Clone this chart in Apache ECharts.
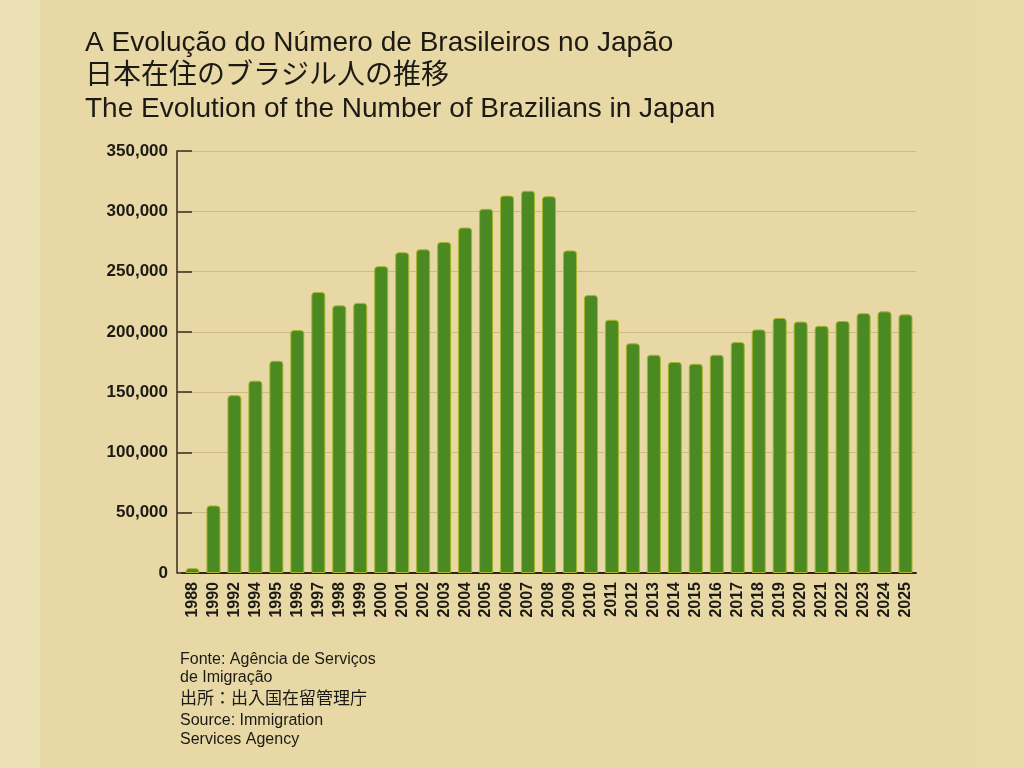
<!DOCTYPE html>
<html>
<head>
<meta charset="utf-8">
<script src="https://cdn.jsdelivr.net/npm/echarts@6/dist/echarts.min.js"></script>
<style>
  html, body { margin: 0; padding: 0; background: #e7d8a6; }
  #chart { width: 1024px; height: 768px; }
</style>
</head>
<body>
<div id="chart"></div>
<script>
// years shown on the x axis
var years = ['1988', '1990', '1992', '1994', '1995', '1996', '1997', '1998', '1999', '2000',
    '2001', '2002', '2003', '2004', '2005', '2006', '2007', '2008', '2009', '2010',
    '2011', '2012', '2013', '2014', '2015', '2016', '2017', '2018', '2019', '2020',
    '2021', '2022', '2023', '2024', '2025'];

// Brazilians living in Japan
var residents = [4000, 56000, 147500, 159500, 176000, 201500, 233000, 222000, 224000, 254500,
    266000, 268500, 274500, 286500, 302000, 313000, 317000, 312500, 267500, 230500,
    210000, 190500, 181000, 175000, 173500, 181000, 191500, 202000, 211500, 208500,
    205000, 209000, 215500, 217000, 214500];

var yTicks = [0, 50000, 100000, 150000, 200000, 250000, 300000, 350000];

var titleLines = [
    'A Evolução do Número de Brasileiros no Japão',
    '日本在住のブラジル人の推移',
    'The Evolution of the Number of Brazilians in Japan'
];

var sourceLines = [
    'Fonte: Agência de Serviços',
    'de Imigração',
    '出所：出入国在留管理庁',
    'Source: Immigration',
    'Services Agency'
];

var chart = echarts.init(document.getElementById('chart'));

var fontFamily = '"Liberation Sans", Arial, "Noto Sans CJK JP", sans-serif';

var titles = titleLines.map(function (t, i) {
    return {
        text: t,
        left: 80,
        top: 24 + i * 33,
        textStyle: {
            fontFamily: fontFamily,
            fontSize: 28,
            fontWeight: 'normal',
            color: '#1c1a14'
        }
    };
});

// source note under the chart
titles.push({
    text: '{a|' + sourceLines[0] + '}\n{a|' + sourceLines[1] + '}\n{j|' + sourceLines[2] + '}\n{b|' + sourceLines[3] + '}\n{b|' + sourceLines[4] + '}',
    left: 175,
    top: 646,
    textStyle: {
        rich: {
            a: { fontFamily: fontFamily, fontSize: 16, fontWeight: 'normal', color: '#1c1a14', lineHeight: 18 },
            j: { fontFamily: fontFamily, fontSize: 17, fontWeight: 'normal', color: '#1c1a14', lineHeight: 24 },
            b: { fontFamily: fontFamily, fontSize: 16, fontWeight: 'normal', color: '#1c1a14', lineHeight: 19 }
        }
    }
});

var option = {
    backgroundColor: '#e7d8a6',
    animation: false,
    graphic: [
        { type: 'rect', left: 0, top: 0, shape: { width: 40, height: 768 }, style: { fill: '#ece0b6' }, z: -10 },
        { type: 'rect', left: 970, top: 0, shape: { width: 54, height: 768 }, style: { fill: '#e9d9a8' }, z: -10 }
    ],
    title: titles,
    grid: {
        left: 182,
        right: 108,
        top: 151,
        bottom: 195
    },
    xAxis: {
        type: 'category',
        data: years,
        axisLine: { lineStyle: { color: '#2e2418', width: 2 } },
        axisTick: { show: false },
        axisLabel: {
            rotate: 90,
            interval: 0,
            margin: 9,
            fontFamily: fontFamily,
            fontSize: 16,
            fontWeight: 'bold',
            color: '#1c1a14'
        }
    },
    yAxis: {
        type: 'value',
        min: 0,
        max: 350000,
        interval: 50000,
        offset: 5,
        axisLine: { show: true, lineStyle: { color: '#3a2c1c', width: 1.5 } },
        axisTick: { show: true, inside: true, length: 15, lineStyle: { color: '#3a2c1c', width: 1.5 } },
        splitLine: { lineStyle: { color: '#cdb98a', width: 1 } },
        axisLabel: {
            margin: 9,
            fontFamily: fontFamily,
            fontSize: 17,
            fontWeight: 'bold',
            color: '#1c1a14',
            customValues: yTicks,
            formatter: function (v) {
                return v.toLocaleString('en-US');
            }
        }
    },
    series: [{
        type: 'bar',
        data: residents,
        barWidth: 14,
        itemStyle: {
            color: '#4b8a23',
            borderColor: '#a9b52a',
            borderWidth: 1,
            borderRadius: [3, 3, 0, 0]
        }
    }]
};

chart.setOption(option);
</script>
</body>
</html>
